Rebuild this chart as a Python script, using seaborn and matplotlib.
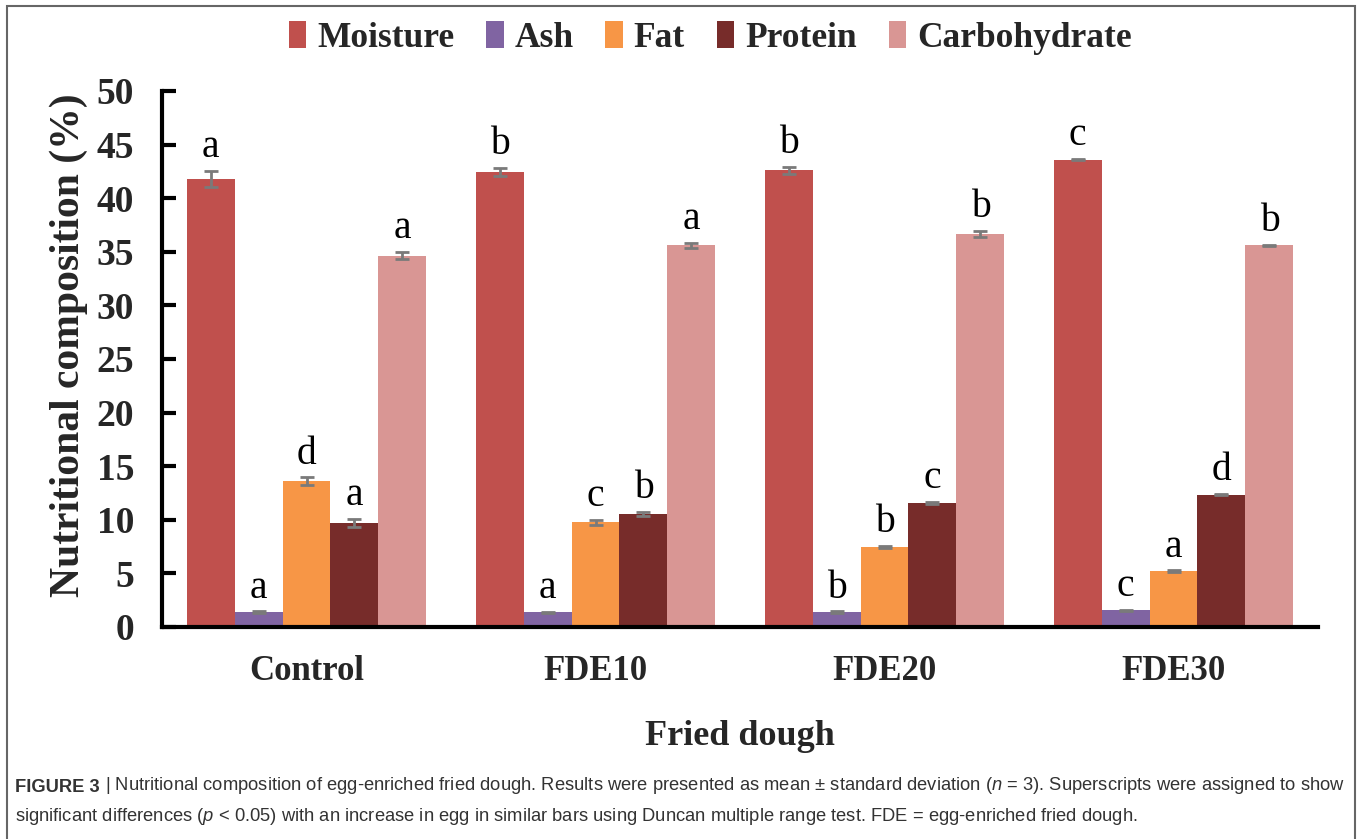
import pandas as pd
import numpy as np
import matplotlib
matplotlib.use("Agg")
import matplotlib.pyplot as plt
import seaborn as sns
from matplotlib.patches import Rectangle
from matplotlib.text import Annotation

# Data
samples = ['Control', 'FDE10', 'FDE20', 'FDE30']
components = ['Moisture', 'Ash', 'Fat', 'Protein', 'Carbohydrate']
moisture = [41.8, 42.45, 42.6, 43.6]
ash = [1.4, 1.38, 1.4, 1.55]
fat = [13.6, 9.75, 7.5, 5.2]
protein = [9.7, 10.55, 11.55, 12.35]
carbohydrate = [34.65, 35.6, 36.65, 35.6]
moisture_sd = [0.75, 0.35, 0.35, 0.05]
ash_sd = [0.05, 0.05, 0.05, 0.05]
fat_sd = [0.35, 0.2, 0.1, 0.08]
protein_sd = [0.35, 0.15, 0.08, 0.05]
carbohydrate_sd = [0.35, 0.25, 0.3, 0.06]
letters = {
    'Moisture': ['a', 'b', 'b', 'c'],
    'Ash': ['a', 'a', 'b', 'c'],
    'Fat': ['d', 'c', 'b', 'a'],
    'Protein': ['a', 'b', 'c', 'd'],
    'Carbohydrate': ['a', 'a', 'b', 'b'],
}
colors = ['#C0504D', '#8064A2', '#F79646', '#772C2A', '#D99694']

values = {'Moisture': moisture, 'Ash': ash, 'Fat': fat,
          'Protein': protein, 'Carbohydrate': carbohydrate}
sds = {'Moisture': moisture_sd, 'Ash': ash_sd, 'Fat': fat_sd,
       'Protein': protein_sd, 'Carbohydrate': carbohydrate_sd}

rows = []
for comp in components:
    for s, v in zip(samples, values[comp]):
        rows.append({'Sample': s, 'Component': comp, 'Value': v})
df = pd.DataFrame(rows)

sns.set_style('white')
plt.rcParams['font.family'] = ['Liberation Serif', 'DejaVu Serif']
plt.rcParams['mathtext.fontset'] = 'custom'
plt.rcParams['mathtext.it'] = 'Liberation Sans:italic'
plt.rcParams['mathtext.rm'] = 'Liberation Sans'

fig = plt.figure(figsize=(13.57, 8.39), dpi=100)
ax = fig.add_axes([162 / 1357, 1 - 627 / 839, (1318 - 162) / 1357, (627 - 91) / 839])

sns.barplot(data=df, x='Sample', y='Value', hue='Component', order=samples,
            hue_order=components, palette=colors, width=0.83, gap=0,
            errorbar=None, linewidth=0, saturation=1, ax=ax, legend=False)

# error bars and significance letters
for comp, cont in zip(components, ax.containers):
    xs = [p.get_x() + p.get_width() / 2 for p in cont.patches]
    ax.errorbar(xs, values[comp], yerr=sds[comp], fmt='none', ecolor='#7a7a7a',
                elinewidth=2, capsize=5, capthick=2, zorder=3)
    for x, v, e, lab in zip(xs, values[comp], sds[comp], letters[comp]):
        ax.annotate(lab, (x, v + e), xytext=(0, 10), textcoords='offset points',
                    ha='center', va='baseline', fontsize=28.5, color='black')

ax.set_xlim(-0.5, 3.5)
ax.set_ylim(0, 50)
ax.set_yticks(np.arange(0, 51, 5))
ax.set_yticklabels([str(t) for t in range(0, 51, 5)], fontsize=27, fontweight='bold')
ax.set_xticks(range(len(samples)))
ax.set_xticklabels(samples, fontsize=25, fontweight='bold')
ax.set_xticks(np.arange(-0.5, 3.6, 1.0), minor=True)
ax.tick_params(axis='x', which='major', length=0, pad=20)
ax.tick_params(axis='x', which='minor', direction='in', length=10, width=3, color='black')
ax.tick_params(axis='y', which='major', direction='in', length=10, width=3, color='black', pad=20, left=True)

for side in ['top', 'right']:
    ax.spines[side].set_visible(False)
for side in ['left', 'bottom']:
    ax.spines[side].set_linewidth(3)
    ax.spines[side].set_color('black')

ax.set_xlabel('Fried dough', fontsize=26, fontweight='bold', labelpad=23)
ax.set_ylabel('Nutritional composition (%)', fontsize=30, fontweight='bold', labelpad=6)
ax.yaxis.label.set_y(0.525)

handles = [Rectangle((0, 0), 1, 1, facecolor=c, edgecolor='none') for c in colors]
fig.legend(handles, components, loc='center', bbox_to_anchor=(710 / 1357, 1 - 38 / 839),
           ncol=5, frameon=False, prop={'family': 'Liberation Serif', 'weight': 'bold', 'size': 25.5},
           handlelength=0.5, handleheight=0.8, handletextpad=0.3, columnspacing=0.9)

# outer frame
fig.add_artist(Rectangle((7 / 1357, -0.05), (1355 - 7) / 1357, 1.05 - 6 / 839,
                         transform=fig.transFigure, fill=False, edgecolor='#666666',
                         linewidth=1.5, clip_on=False))

# caption
cap_kw = dict(fontsize=13.2, color='#333333', family='Liberation Sans')
t1 = fig.text(15 / 1357, 1 - 792 / 839, 'FIGURE 3', fontweight='bold', va='baseline', **cap_kw)
rest1 = (' | Nutritional composition of egg-enriched fried dough. Results were presented as '
         'mean \u00b1 standard deviation ($n$ = 3). Superscripts were assigned to show')
a1 = Annotation(rest1, xy=(1, 0), xycoords=t1, va='bottom', ha='left', **cap_kw)
fig.add_artist(a1)
fig.text(15 / 1357, 1 - 821 / 839,
         'significant differences ($p$ < 0.05) with an increase in egg in similar bars using '
         'Duncan multiple range test. FDE = egg-enriched fried dough.', va='baseline', **cap_kw)

fig.savefig('out.png', dpi=100)
